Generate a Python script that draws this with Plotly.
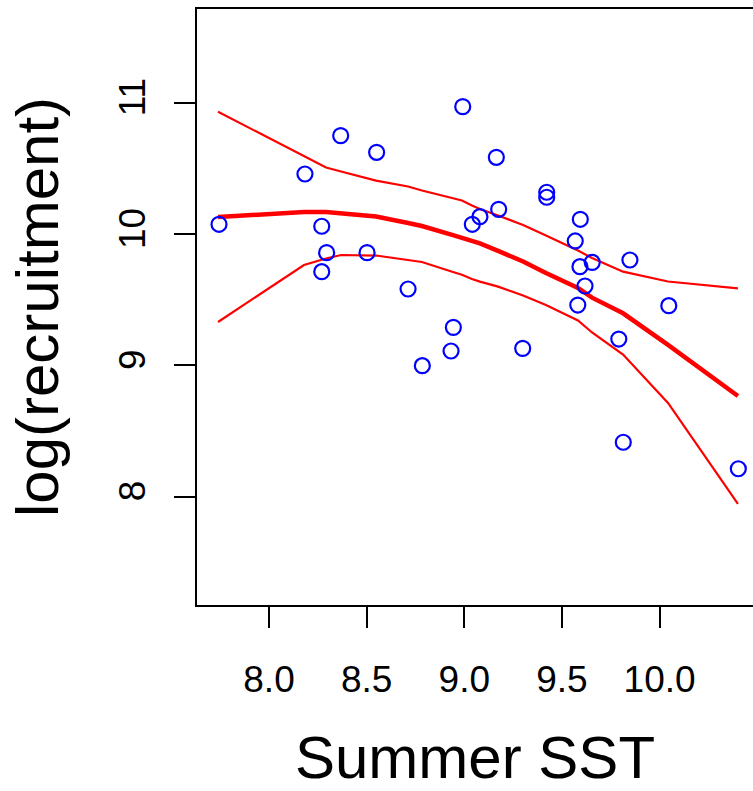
import plotly.graph_objects as go

# observed points
sst = [7.744, 8.184, 8.367, 8.551, 8.270, 8.295, 8.270, 8.502, 8.992, 9.164,
       9.176, 9.080, 9.041, 9.422, 9.422, 9.594, 9.568, 9.655, 9.592, 9.848,
       9.581, 9.618, 9.791, 10.047, 9.814, 10.403, 8.712, 8.944, 8.932, 8.785,
       9.299]
log_rec = [10.074, 10.457, 10.749, 10.622, 10.059, 9.858, 9.713, 9.858, 10.970, 10.584,
           10.188, 10.132, 10.074, 10.318, 10.280, 10.112, 9.947, 9.784, 9.751, 9.802,
           9.459, 9.604, 9.200, 9.454, 8.414, 8.212, 9.581, 9.289, 9.109, 8.997,
           9.129]

# smoother fit and bands
fit_x = [7.739, 8.179, 8.292, 8.369, 8.548, 8.712, 8.783, 8.942, 8.988, 9.039,
         9.080, 9.173, 9.301, 9.418, 9.582, 9.654, 9.813, 10.043, 10.401]
fit_mid = [10.129, 10.168, 10.168, 10.160, 10.133, 10.084, 10.061, 9.992, 9.973, 9.947,
           9.928, 9.871, 9.791, 9.703, 9.589, 9.515, 9.396, 9.155, 8.766]
fit_up = [10.931, 10.589, 10.506, 10.476, 10.407, 10.362, 10.331, 10.272, 10.255, 10.217,
          10.190, 10.141, 10.069, 9.989, 9.874, 9.817, 9.713, 9.638, 9.586]
fit_lo = [9.330, 9.764, 9.813, 9.840, 9.836, 9.802, 9.787, 9.711, 9.690, 9.657,
          9.637, 9.599, 9.532, 9.459, 9.341, 9.250, 9.082, 8.713, 7.944]

x_ticks = [8.0, 8.5, 9.0, 9.5, 10.0]
x_tick_labels = ["8.0", "8.5", "9.0", "9.5", "10.0"]
y_ticks = [8, 9, 10, 11]
y_tick_labels = ["8", "9", "10", "11"]

FONT = "Liberation Sans, Arial, Helvetica, sans-serif"

fig = go.Figure()
fig.add_trace(go.Scatter(x=fit_x, y=fit_up, mode="lines",
                         line=dict(color="#FF0000", width=2.2), hoverinfo="skip"))
fig.add_trace(go.Scatter(x=fit_x, y=fit_lo, mode="lines",
                         line=dict(color="#FF0000", width=2.2), hoverinfo="skip"))
fig.add_trace(go.Scatter(x=fit_x, y=fit_mid, mode="lines",
                         line=dict(color="#FF0000", width=4.5), hoverinfo="skip"))
fig.add_trace(go.Scatter(x=sst, y=log_rec, mode="markers",
                         marker=dict(symbol="circle-open", size=15, color="#0000FF",
                                     line=dict(width=2.2, color="#0000FF"))))

fig.update_layout(
    width=753, height=791,
    margin=dict(l=197, r=0, t=9, b=186, pad=0),
    paper_bgcolor="white", plot_bgcolor="white",
    showlegend=False,
    font=dict(family=FONT, color="black"),
)
fig.update_xaxes(
    range=[7.6313, 10.4782], tickvals=x_ticks, ticktext=x_tick_labels,
    showgrid=False, zeroline=False,
    showline=True, linecolor="black", linewidth=2, mirror=True,
    ticks="outside", ticklen=21, tickwidth=2, tickcolor="black",
    tickfont=dict(size=37, family=FONT, color="black"),
    ticklabelstandoff=20,
    title=dict(text="Summer SST", font=dict(size=60, family=FONT, color="black"), standoff=42),
)
fig.update_yaxes(
    range=[7.1744, 11.7136], tickvals=y_ticks, ticktext=y_tick_labels,
    showgrid=False, zeroline=False,
    showline=True, linecolor="black", linewidth=2, mirror=False,
    ticks="outside", ticklen=21, tickwidth=2, tickcolor="black",
    tickangle=-90,
    tickfont=dict(size=37, family=FONT, color="black"),
    ticklabelstandoff=14,
    title=dict(text="log(recruitment)", font=dict(size=60, family=FONT, color="black"), standoff=34),
)

fig.write_html("out.html", config={"displayModeBar": False},
               post_script="document.body.style.margin='0';document.body.style.overflow='hidden';")
